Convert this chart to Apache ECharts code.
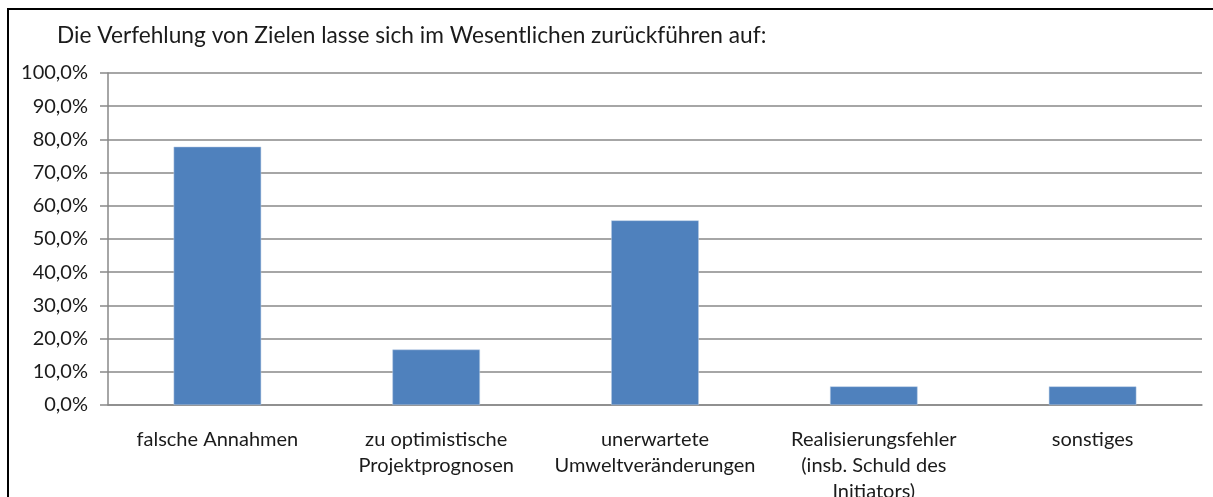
<!DOCTYPE html>
<html>
<head>
<meta charset="utf-8">
<script src="https://cdn.jsdelivr.net/npm/echarts@6/dist/echarts.min.js"></script>
<style>
    html, body { margin: 0; padding: 0; background: #fff; overflow: hidden; }
    .frame {
        position: absolute;
        left: 7px; top: 8px;
        width: 1204px; height: 489px;
        border-left: 2px solid #000;
        border-top: 2px solid #000;
    }
    #chart { position: absolute; left: 0; top: 0; width: 1213px; height: 497px; }
</style>
</head>
<body>
<div class="frame"></div>
<div id="chart"></div>
<script>
// Kategorien und Anteile
const categories = [
    'falsche Annahmen',
    'zu optimistische\nProjektprognosen',
    'unerwartete\nUmweltveränderungen',
    'Realisierungsfehler\n(insb. Schuld des\nInitiators)',
    'sonstiges'
];
const shares = [0.778, 0.167, 0.556, 0.056, 0.056];

const font = 'Lato';
const textColor = '#1b1b1b';
const lineColor = '#898989';

const chart = echarts.init(document.getElementById('chart'));
chart.setOption({
    animation: false,
    title: {
        text: 'Die Verfehlung von Zielen lasse sich im Wesentlichen zurückführen auf:',
        left: 52,
        top: 19,
        textStyle: { fontFamily: font, fontSize: 22.7, fontWeight: 'normal', color: textColor }
    },
    grid: { left: 108, right: 11, top: 73, bottom: 92, outerBoundsMode: 'none' },
    xAxis: {
        type: 'category',
        data: categories,
        axisLine: { lineStyle: { color: lineColor, width: 1.5 } },
        axisTick: { length: 7, lineStyle: { color: lineColor, width: 1.5 } },
        axisLabel: {
            fontFamily: font, fontSize: 20, color: textColor,
            margin: 22, lineHeight: 26, interval: 0
        }
    },
    yAxis: {
        type: 'value',
        min: 0, max: 1, interval: 0.1,
        axisLine: { show: true, lineStyle: { color: lineColor, width: 1.5 } },
        axisTick: { show: true, length: 8, lineStyle: { color: lineColor, width: 1.5 } },
        splitLine: { lineStyle: { color: lineColor, width: 1.5 } },
        axisLabel: {
            fontFamily: font, fontSize: 20, color: textColor, margin: 20,
            formatter: v => (v * 100).toFixed(1).replace('.', ',') + '%'
        }
    },
    series: [{
        type: 'bar',
        data: shares,
        barCategoryGap: '60%',
        itemStyle: { color: '#4f81bd', borderColor: '#b9cde5', borderWidth: 0.5 }
    }]
});
</script>
</body>
</html>
